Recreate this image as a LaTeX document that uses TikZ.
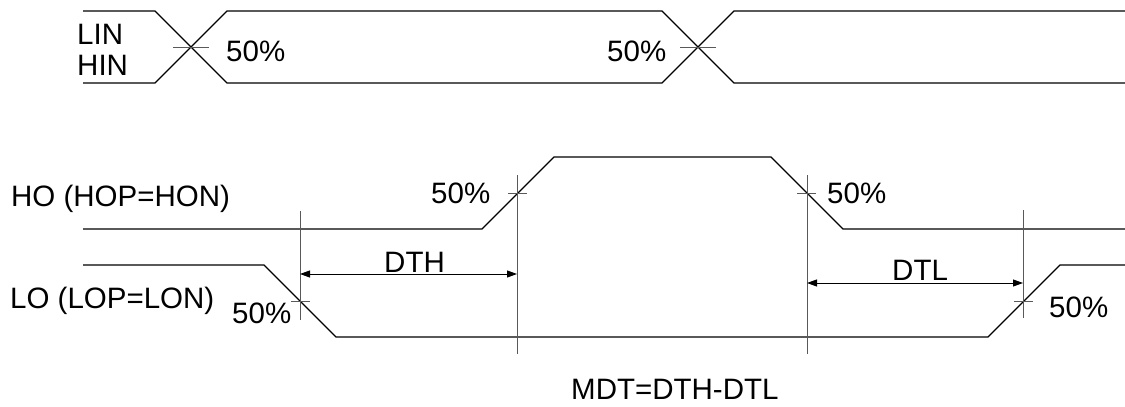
\documentclass[tikz,border=0pt]{standalone}
\usepackage{fontspec}
\setmainfont{Liberation Sans}
\usetikzlibrary{arrows.meta}
\begin{document}
\begin{tikzpicture}[x=1pt,y=-1pt,
  sig/.style={line width=1.3pt, line join=miter},
  guide/.style={line width=0.9pt, draw=black!65},
  tickmark/.style={line width=0.9pt, draw=black!65},
  lbl/.style={anchor=base west, inner sep=0pt, font=\fontsize{29.5}{34}\selectfont},
  dimarrow/.style={line width=0.9pt, {Triangle[length=10pt,width=7pt]}-{Triangle[length=10pt,width=7pt]}}]
\useasboundingbox (0,0) rectangle (1125,407);
\fill[white] (0,0) rectangle (1125,407);

% LIN / HIN
\draw[sig] (83,11) -- (155,11) -- (227,83) -- (662,83) -- (734,11) -- (1125,11);
\draw[sig] (83,83) -- (155,83) -- (227,11) -- (662,11) -- (734,83) -- (1125,83);
\draw[tickmark] (173,47) -- (209,47);
\draw[tickmark] (680,47) -- (716,47);

% HO
\draw[sig] (83,229) -- (482,229) -- (554,157) -- (771,157) -- (843,229) -- (1125,229);
\draw[tickmark] (508,193) -- (527,193);
\draw[tickmark] (797,193) -- (816,193);

% LO
\draw[sig] (83,265) -- (264,265) -- (336,337) -- (988,337) -- (1060,265) -- (1125,265);
\draw[tickmark] (291,301) -- (310,301);
\draw[tickmark] (1014,301) -- (1033,301);

% guide verticals
\coordinate (g1t) at (300,211); \coordinate (g1b) at (300,320);
\coordinate (g2t) at (517,175); \coordinate (g2b) at (517,354);
\coordinate (g3t) at (807,175); \coordinate (g3b) at (807,354);
\coordinate (g4t) at (1023,210); \coordinate (g4b) at (1023,318);
\draw[guide] (g1t) -- (g1b);
\draw[guide] (g2t) -- (g2b);
\draw[guide] (g3t) -- (g3b);
\draw[guide] (g4t) -- (g4b);

% dimension arrows
\coordinate (dthL) at (300,274); \coordinate (dthR) at (517,274);
\coordinate (dtlL) at (807,283); \coordinate (dtlR) at (1023,283);
\draw[dimarrow] (dthL) -- (dthR);
\draw[dimarrow] (dtlL) -- (dtlR);

% labels
\node[lbl] (lin) at (77,44) {LIN};
\node[lbl] (hin) at (77,75) {HIN};
\node[lbl] (p1) at (226,61) {50\%};
\node[lbl] (p2) at (607,61) {50\%};
\node[lbl] (ho) at (11,206) {HO (HOP=HON)};
\node[lbl] (p3) at (431,203) {50\%};
\node[lbl] (p4) at (827,203) {50\%};
\node[lbl] (lo) at (10,308) {LO (LOP=LON)};
\node[lbl] (p5) at (232,323) {50\%};
\node[lbl] (p6) at (1049,317) {50\%};
\node[lbl] (dth) at (384,272) {DTH};
\node[lbl] (dtl) at (892,280) {DTL};
\node[lbl] (mdt) at (571,399) {MDT=DTH-DTL};
\end{tikzpicture}
\end{document}
